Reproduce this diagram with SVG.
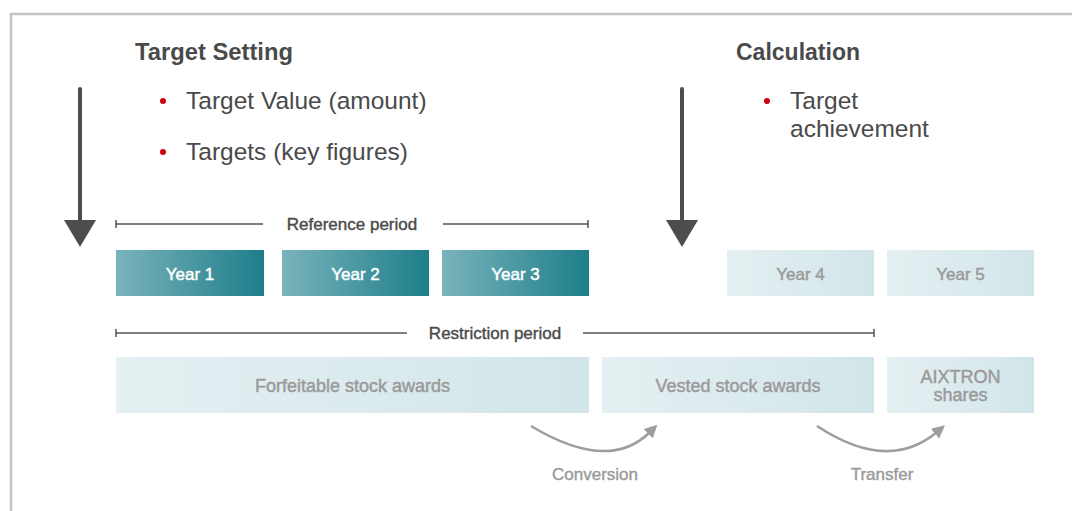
<svg xmlns="http://www.w3.org/2000/svg" width="1072" height="511" viewBox="0 0 1072 511">
<defs>
<linearGradient id="gDark" x1="0" y1="0" x2="1" y2="0"><stop offset="0" stop-color="#7ab3bb"/><stop offset="1" stop-color="#1d7e8a"/></linearGradient>
<linearGradient id="gLight" x1="0" y1="0" x2="1" y2="0"><stop offset="0" stop-color="#e5f0f2"/><stop offset="1" stop-color="#d2e5e9"/></linearGradient>
<marker id="ah" viewBox="0 0 10 10" refX="2" refY="5" markerWidth="13" markerHeight="13" markerUnits="userSpaceOnUse" orient="auto"><path d="M0,0 L10,5 L0,10 z" fill="#9e9e9e"/></marker>
<style>
text{font-family:"Liberation Sans",Arial,sans-serif}
.title{font-size:24px;font-weight:bold;fill:#4a4a4a}
.body{font-size:24.5px;fill:#4a4a4a}
.dot{fill:#d0000f}
.dark{fill:url(#gDark)}
.light{fill:url(#gLight)}
.yw{font-size:17px;fill:#ffffff;stroke:#ffffff;stroke-width:0.45;text-anchor:middle}
.yg{font-size:17px;fill:#9a9a9a;stroke:#9a9a9a;stroke-width:0.45;text-anchor:middle}
.lg{font-size:18px;fill:#9a9a9a;stroke:#9a9a9a;stroke-width:0.45;text-anchor:middle}
.per{font-size:17px;fill:#4a4a4a;stroke:#4a4a4a;stroke-width:0.4;text-anchor:middle}
.pl{stroke:#555;stroke-width:1.5;fill:none}
.cap{font-size:17px;fill:#9a9a9a;stroke:#9a9a9a;stroke-width:0.4;text-anchor:middle}
.curve{stroke:#9e9e9e;stroke-width:2.5;fill:none}
.big{fill:#4d4d4d}
</style>
</defs>
<path d="M11,511 V14 H1072" fill="none" stroke="#c4c4c4" stroke-width="2.5"/>

<g id="target-setting">
<text class="title" x="135" y="60" textLength="158" lengthAdjust="spacingAndGlyphs">Target Setting</text>
<circle class="dot" cx="163" cy="101" r="3"/>
<text class="body" x="186" y="109">Target Value (amount)</text>
<circle class="dot" cx="163" cy="152" r="3"/>
<text class="body" x="186" y="160">Targets (key figures)</text>
</g>
<g id="calculation">
<text class="title" x="736" y="60" textLength="124" lengthAdjust="spacingAndGlyphs">Calculation</text>
<circle class="dot" cx="767" cy="101" r="3"/>
<text class="body" x="790" y="109">Target</text>
<text class="body" x="790" y="137">achievement</text>
</g>
<g id="arrow-left">
<rect class="big" x="78" y="87" width="4" height="136" rx="2"/>
<polygon class="big" points="64,220 96,220 80,247"/>
</g>
<g id="arrow-right">
<rect class="big" x="680" y="87" width="4" height="136" rx="2"/>
<polygon class="big" points="666,220 698,220 682,247"/>
</g>

<g id="reference-period">
<path class="pl" d="M116,220 V228 M116,224 H263 M443,224 H588 M588,220 V228"/>
<text class="per" x="352" y="230">Reference period</text>
</g>
<g id="year1"><rect class="dark" x="116" y="250" width="148" height="46"/><text class="yw" x="190" y="280">Year 1</text></g>
<g id="year2"><rect class="dark" x="282" y="250" width="147" height="46"/><text class="yw" x="355.5" y="280">Year 2</text></g>
<g id="year3"><rect class="dark" x="442" y="250" width="147" height="46"/><text class="yw" x="515.5" y="280">Year 3</text></g>
<g id="year4"><rect class="light" x="727" y="250" width="147" height="46"/><text class="yg" x="800.5" y="280">Year 4</text></g>
<g id="year5"><rect class="light" x="887" y="250" width="147" height="46"/><text class="yg" x="960.5" y="280">Year 5</text></g>

<g id="restriction-period">
<path class="pl" d="M116,329 V337 M116,333 H407 M583,333 H874 M874,329 V337"/>
<text class="per" x="495" y="339">Restriction period</text>
</g>
<g id="forfeitable"><rect class="light" x="116" y="357" width="473" height="56"/><text class="lg" x="352.5" y="392">Forfeitable stock awards</text></g>
<g id="vested"><rect class="light" x="602" y="357" width="272" height="56"/><text class="lg" x="738" y="392">Vested stock awards</text></g>
<g id="aixtron"><rect class="light" x="887" y="357" width="147" height="56"/><text class="lg" x="960.5" y="383">AIXTRON</text><text class="lg" x="960.5" y="401">shares</text></g>

<g id="connectors">
<path class="curve" d="M531,426 Q609,473 650,432" marker-end="url(#ah)"/>
<path class="curve" d="M817,426 Q888,473 937,432" marker-end="url(#ah)"/>
<text class="cap" x="595" y="480">Conversion</text>
<text class="cap" x="882" y="480">Transfer</text>
</g>
</svg>
